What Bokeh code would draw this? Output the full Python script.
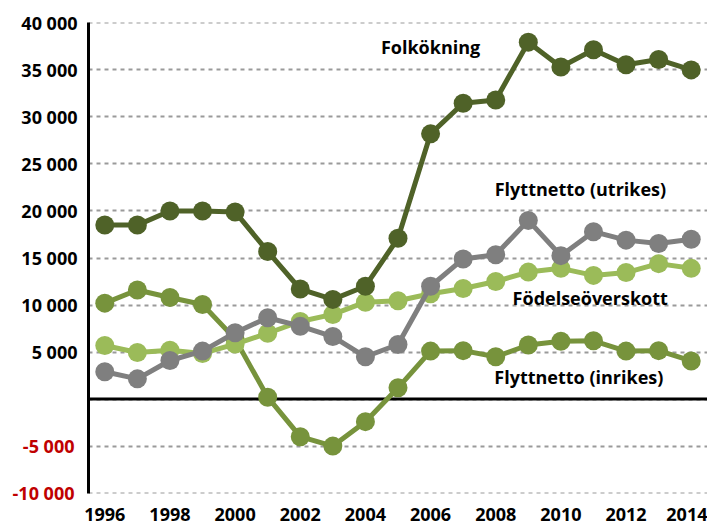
from bokeh.plotting import figure
from bokeh.models import Range1d, FixedTicker, Span, Label, LinearAxis
from bokeh.embed import file_html
from bokeh.resources import INLINE

years = list(range(1996, 2015))
folkokning = [18500, 18500, 20000, 20000, 19900, 15700, 11700, 10600, 12000, 17100,
              28200, 31450, 31800, 37950, 35300, 37150, 35550, 36100, 35000]
utrikes = [2900, 2150, 4100, 5100, 7050, 8650, 7750, 6650, 4500, 5800,
           12000, 14900, 15350, 19000, 15250, 17800, 16900, 16550, 17000]
fodelse = [5700, 4950, 5200, 4850, 5850, 7000, 8250, 9000, 10300, 10450,
           11200, 11750, 12500, 13500, 13900, 13150, 13450, 14400, 13900]
inrikes = [10200, 11600, 10800, 10050, 6400, 200, -4000, -5000, -2400, 1200,
           5100, 5150, 4500, 5750, 6150, 6200, 5100, 5150, 4050]

series_names = ["Flyttnetto (inrikes)", "Födelseöverskott", "Flyttnetto (utrikes)", "Folkökning"]
series_values = [inrikes, fodelse, utrikes, folkokning]
series_colors = ["#77933C", "#9BBB59", "#7F7F7F", "#4F6228"]

y_ticks = [-10000, -5000, 0, 5000, 10000, 15000, 20000, 25000, 30000, 35000, 40000]
x_ticks = [1996, 1998, 2000, 2002, 2004, 2006, 2008, 2010, 2012, 2014]

label_texts = ["Folkökning", "Flyttnetto (utrikes)", "Födelseöverskott", "Flyttnetto (inrikes)"]
label_x = [2006.0, 2010.6, 2010.9, 2010.55]
label_y = [37400, 22300, 10800, 2300]

def fmt(v):
    return f"{v:,}".replace(",", " ")

FONT = "Open Sans"
pos_ticks = [v for v in y_ticks if v > 0]
neg_ticks = [v for v in y_ticks if v < 0]

p = figure(frame_width=619, frame_height=471, output_backend="svg", toolbar_location=None,
           x_range=Range1d(1995.5, 2014.5), y_range=Range1d(-10040, 40040),
           min_border_left=88, min_border_right=0, min_border_top=22, min_border_bottom=35)
p.outline_line_color = None
p.background_fill_color = "white"
p.border_fill_color = "white"

def style_axis(ax, color):
    ax.major_tick_in = 0
    ax.major_tick_out = 0
    ax.minor_tick_line_color = None
    ax.major_label_text_font = FONT
    ax.major_label_text_font_style = "bold"
    ax.major_label_text_font_size = "18px"
    ax.major_label_text_color = color

# inner y axis: positive labels in black
p.yaxis.ticker = FixedTicker(ticks=pos_ticks)
p.yaxis.major_label_overrides = {v: fmt(v) for v in pos_ticks}
p.yaxis.axis_line_color = "black"
p.yaxis.axis_line_width = 3
p.yaxis.bounds = (-10000, 40000)
p.yaxis.major_label_standoff = 11
style_axis(p.yaxis[0], "black")

# outer y axis: negative labels in red, pulled back next to the frame
neg_axis = LinearAxis(ticker=FixedTicker(ticks=neg_ticks),
                      major_label_overrides={v: fmt(v) for v in neg_ticks},
                      axis_line_color=None, major_label_standoff=-56)
style_axis(neg_axis, "#C00000")
p.add_layout(neg_axis, "left")

p.xaxis.ticker = FixedTicker(ticks=x_ticks)
p.xaxis.major_label_overrides = {v: str(v) for v in x_ticks}
p.xaxis.axis_line_color = None
p.xaxis.major_label_standoff = 14
style_axis(p.xaxis[0], "black")

p.xgrid.grid_line_color = None
p.ygrid.ticker = FixedTicker(ticks=y_ticks)
p.ygrid.grid_line_color = "#9a9a9a"
p.ygrid.grid_line_width = 2
p.ygrid.grid_line_dash = "4 4"

p.add_layout(Span(location=0, dimension="width", line_color="black", line_width=3, level="underlay"))

for name, vals, col in zip(series_names, series_values, series_colors):
    p.line(years, vals, line_color=col, line_width=5)
    p.scatter(years, vals, size=19, fill_color=col, line_color=col, line_width=0)

for t, lx, ly in zip(label_texts, label_x, label_y):
    p.add_layout(Label(x=lx, y=ly, text=t, text_align="center", text_baseline="middle",
                       text_font=FONT, text_font_style="bold", text_font_size="18px",
                       text_color="black"))

open("out.html", "w").write(file_html(p, INLINE))
